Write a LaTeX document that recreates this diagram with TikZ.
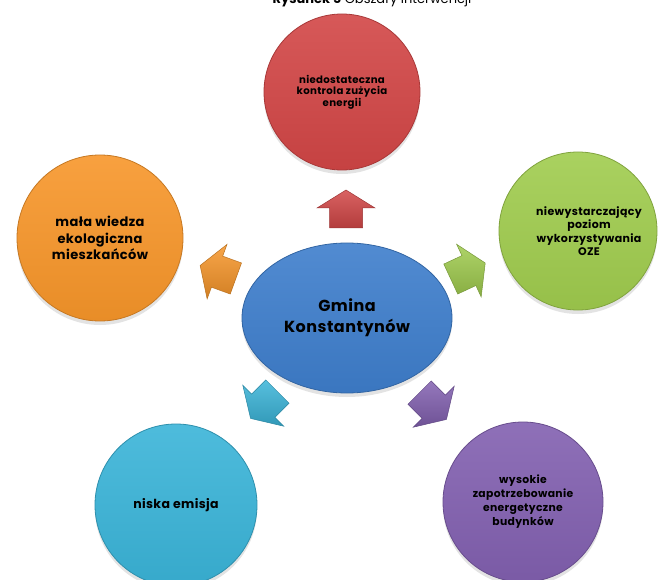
\documentclass[tikz,border=0pt]{standalone}
\usepackage{fontspec}
\setmainfont{Poppins}
\newfontfamily\bubfont[LetterSpace=3]{Poppins}
\usetikzlibrary{shadows,shapes.geometric}
\definecolor{cred}{HTML}{D24646}
\definecolor{cgreen}{HTML}{A0CC4E}
\definecolor{corange}{HTML}{F7962A}
\definecolor{cblue}{HTML}{3E7ECC}
\definecolor{ccyan}{HTML}{3AB4D8}
\definecolor{cpurple}{HTML}{8260B0}
\tikzset{
  bubble/.style={inner sep=0pt, align=center, text=black,
    draw=#1!80!black, line width=0.8pt,
    top color=#1!90!white, bottom color=#1!94!black,
    drop shadow={shadow xshift=0pt, shadow yshift=-4pt, opacity=0.22}},
  blockarrow/.style={draw=#1!75!black, line width=0.5pt,
    top color=#1!85!white, bottom color=#1!85!black},
}
\newcommand{\blkarrow}[4]{%
  \begin{scope}[shift={(#1,#2)}, rotate=#3]
    \path[blockarrow=#4] (19,0) -- (1,29) -- (1,16.5) -- (-19,16.5) -- (-19,-16.5) -- (1,-16.5) -- (1,-29) -- cycle;
  \end{scope}}
\begin{document}
\begin{tikzpicture}[x=1pt, y=-1pt]
\useasboundingbox (0,0) rectangle (664,580);
\fill[white] (0,0) rectangle (664,580);
\node[anchor=base, font=\fontsize{13}{15}\selectfont] (title) at (372,4) {\textbf{Rysunek 5} Obszary interwencji};

\node[circle, bubble=cred, minimum size=156pt, font=\bubfont\bfseries\fontsize{10.2}{11.5}\selectfont] (red) at (342,92)
  {niedostateczna\\kontrola zużycia\\energii};
\node[circle, bubble=cgreen, minimum size=158pt, font=\bubfont\bfseries\fontsize{11}{13.5}\selectfont] (green) at (578,231)
  {\hspace*{22pt}niewystarczający\\\hspace*{22pt}poziom\\\hspace*{22pt}wykorzystywania\\\hspace*{22pt}OZE};
\node[circle, bubble=corange, minimum size=166pt, font=\bubfont\bfseries\fontsize{13}{16.5}\selectfont] (orange) at (100,238)
  {mała wiedza\\ekologiczna\\mieszkańców};
\node[circle, bubble=ccyan, minimum size=162pt, font=\bubfont\bfseries\fontsize{12.5}{14}\selectfont] (cyan) at (176,505)
  {niska emisja};
\node[circle, bubble=cpurple, minimum size=160pt, font=\bubfont\bfseries\fontsize{10.8}{14}\selectfont] (purple) at (523,502)
  {wysokie\\zapotrzebowanie\\energetyczne\\budynków};
\node[ellipse, bubble=cblue, minimum width=210pt, minimum height=150pt] (blue) at (347,318) {};
\node[font=\bubfont\bfseries\fontsize{16}{21}\selectfont, align=center] (bluetext) at (blue.center) {Gmina\\Konstantynów};

\blkarrow{346}{209}{90}{cred}
\blkarrow{218}{272}{160}{corange}
\blkarrow{468}{271}{25}{cgreen}
\blkarrow{264}{405}{225}{ccyan}
\blkarrow{433}{406}{-45}{cpurple}
\end{tikzpicture}
\end{document}
